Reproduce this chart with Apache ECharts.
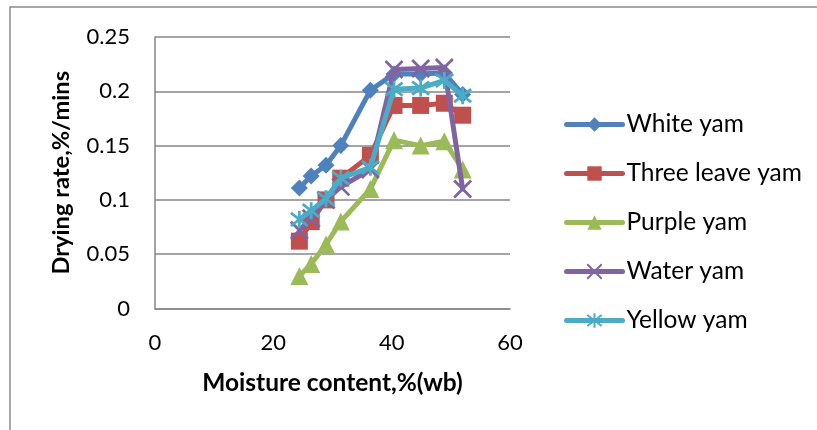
<!DOCTYPE html>
<html>
<head>
<meta charset="utf-8">
<script src="https://cdn.jsdelivr.net/npm/echarts@6/dist/echarts.min.js"></script>
<style>
html,body{margin:0;padding:0;background:#fff;}
#c{width:817px;height:430px;}
</style>
</head>
<body>
<div id="c"></div>
<script>
const seriesNames = ['White yam', 'Three leave yam', 'Purple yam', 'Water yam', 'Yellow yam'];
const moisture = [24.4, 26.4, 28.9, 31.4, 36.4, 40.4, 44.9, 48.9, 52.0];
const whiteYam = [0.111, 0.122, 0.132, 0.150, 0.201, 0.216, 0.216, 0.217, 0.197];
const threeLeaveYam = [0.062, 0.080, 0.100, 0.120, 0.141, 0.187, 0.187, 0.189, 0.178];
const purpleYam = [0.030, 0.041, 0.059, 0.080, 0.110, 0.155, 0.150, 0.154, 0.128];
const waterYam = [0.072, 0.083, 0.100, 0.112, 0.128, 0.220, 0.221, 0.222, 0.110];
const yellowYam = [0.082, 0.090, 0.101, 0.120, 0.130, 0.202, 0.203, 0.210, 0.196];
const xTicks = [0, 20, 40, 60];
const yTicks = [0, 0.05, 0.1, 0.15, 0.2, 0.25];

const values = [whiteYam, threeLeaveYam, purpleYam, waterYam, yellowYam];
const colors = ['#4F81BD', '#C0504D', '#9BBB59', '#8064A2', '#4BACC6'];
const symbols = ['diamond', 'rect', 'triangle',
  'path://M0,0L10,10M10,0L0,10',
  'path://M0,0L10,10M10,0L0,10M5,-1.5L5,11.5'];
const sizes = [17, 17, 18, 17, 17];
const strokeSym = [false, false, false, true, true];

const series = seriesNames.map((name, i) => ({
  name: name,
  type: 'line',
  data: moisture.map((x, j) => [x, values[i][j]]),
  symbol: symbols[i],
  symbolSize: sizes[i],
  showAllSymbol: true,
  lineStyle: {color: colors[i], width: 5, cap: 'round', join: 'round'},
  itemStyle: strokeSym[i]
    ? {color: 'rgba(0,0,0,0)', borderColor: colors[i], borderWidth: 2.8, opacity: 1}
    : {color: colors[i], borderWidth: 0},
  emphasis: {disabled: true},
  animation: false,
  z: 2 + i
}));

const chart = echarts.init(document.getElementById('c'), null, {renderer: 'canvas'});
chart.setOption({
  animation: false,
  backgroundColor: '#fff',
  textStyle: {fontFamily: 'Lato'},
  graphic: [{
    type: 'rect',
    shape: {x: 10, y: 7, width: 900, height: 500},
    style: {fill: 'none', stroke: '#8c8c8c', lineWidth: 1.5},
    silent: true, z: -10
  }],
  grid: {left: 155, right: 307, top: 37, bottom: 121.5, containLabel: false},
  legend: {
    orient: 'vertical',
    left: 559,
    top: 107,
    itemWidth: 56,
    itemHeight: 18,
    itemGap: 24,
    data: seriesNames,
    lineStyle: {width: 5, cap: 'round'},
    textStyle: {fontFamily: 'Lato', fontSize: 24.5, color: '#000', padding: [0,0,0,-1]},
    selectedMode: false
  },
  xAxis: {
    type: 'value',
    min: 0, max: 60, interval: 20,
    name: 'Moisture content,%(wb)',
    nameLocation: 'middle',
    nameGap: 62,
    nameTextStyle: {fontFamily: 'Lato', fontSize: 24.5, fontWeight: 'bold', color: '#000'},
    axisLine: {show: true, onZero: false, lineStyle: {color: '#868686', width: 1.5}},
    axisTick: {show: false},
    splitLine: {show: false},
    axisLabel: {fontFamily: 'Lato', fontSize: 22, color: '#000', margin: 23,
      formatter: v => xTicks.includes(v) ? String(v) : ''}
  },
  yAxis: {
    type: 'value',
    min: 0, max: 0.25, interval: 0.05,
    name: 'Drying rate,%/mins',
    nameLocation: 'middle',
    nameGap: 82,
    nameRotate: 90,
    nameTextStyle: {fontFamily: 'Lato', fontSize: 23.7, fontWeight: 'bold', color: '#000'},
    axisLine: {show: true, lineStyle: {color: '#868686', width: 1.5}},
    axisTick: {show: false},
    splitLine: {show: true, lineStyle: {color: '#868686', width: 1.5}},
    axisLabel: {fontFamily: 'Lato', fontSize: 22, color: '#000', margin: 25,
      formatter: v => { const t = yTicks.find(k => Math.abs(k - v) < 1e-9); return t === undefined ? '' : String(t); }}
  },
  series: series
});
</script>
</body>
</html>
